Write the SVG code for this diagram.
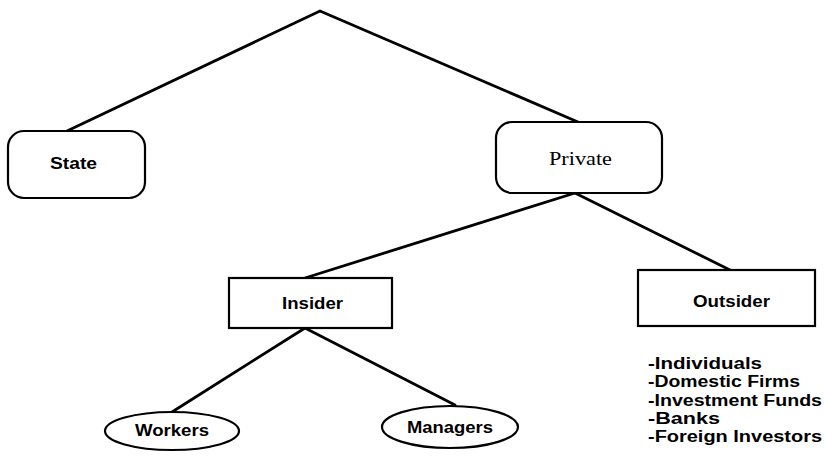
<svg xmlns="http://www.w3.org/2000/svg" width="825" height="468" viewBox="0 0 825 468">
<style>
.edge{stroke:#000;stroke-width:2.8;fill:none;stroke-linecap:round;stroke-linejoin:round}
.box{fill:#fff;stroke:#000;stroke-width:2.2}
.lbl{font-family:"Liberation Sans",Arial,sans-serif;font-weight:bold;font-size:16px;fill:#000}
.ser{font-family:"Liberation Serif","Times New Roman",serif;font-size:18px;fill:#000}
.lst{font-family:"Liberation Sans",Arial,sans-serif;font-weight:bold;font-size:16px;fill:#000}
</style>
<rect width="825" height="468" fill="#fff"/>
<g id="connectors">
<polyline class="edge" points="67,131 320,11 578,122"/>
<line class="edge" x1="575" y1="193" x2="305" y2="278"/>
<line class="edge" x1="575" y1="193" x2="730" y2="270"/>
<line class="edge" x1="305" y1="328" x2="172" y2="412"/>
<line class="edge" x1="305" y1="328" x2="455" y2="405"/>
</g>
<g id="state">
<rect class="box" x="8" y="131" width="137" height="67" rx="16"/>
<text class="lbl" x="50" y="169" textLength="47" lengthAdjust="spacingAndGlyphs">State</text>
</g>
<g id="private">
<rect class="box" x="496" y="122" width="166" height="71" rx="16"/>
<text class="ser" x="549" y="165" textLength="63" lengthAdjust="spacingAndGlyphs">Private</text>
</g>
<g id="insider">
<rect class="box" x="229" y="278" width="163" height="50"/>
<text class="lbl" x="282" y="309" textLength="61" lengthAdjust="spacingAndGlyphs">Insider</text>
</g>
<g id="outsider">
<rect class="box" x="638" y="270" width="177" height="56"/>
<text class="lbl" x="693" y="307" textLength="77" lengthAdjust="spacingAndGlyphs">Outsider</text>
</g>
<g id="workers">
<ellipse class="box" cx="172" cy="431" rx="67" ry="19"/>
<text class="lbl" x="135" y="436" textLength="74" lengthAdjust="spacingAndGlyphs">Workers</text>
</g>
<g id="managers">
<ellipse class="box" cx="450" cy="427" rx="68" ry="21"/>
<text class="lbl" x="407" y="433" textLength="86" lengthAdjust="spacingAndGlyphs">Managers</text>
</g>
<g id="outsider-list">
<text class="lst" x="648" y="369" textLength="114" lengthAdjust="spacingAndGlyphs">-Individuals</text>
<text class="lst" x="648" y="387" textLength="152" lengthAdjust="spacingAndGlyphs">-Domestic Firms</text>
<text class="lst" x="648" y="406" textLength="174" lengthAdjust="spacingAndGlyphs">-Investment Funds</text>
<text class="lst" x="648" y="424" textLength="72" lengthAdjust="spacingAndGlyphs">-Banks</text>
<text class="lst" x="648" y="442" textLength="174" lengthAdjust="spacingAndGlyphs">-Foreign Investors</text>
</g>
</svg>
